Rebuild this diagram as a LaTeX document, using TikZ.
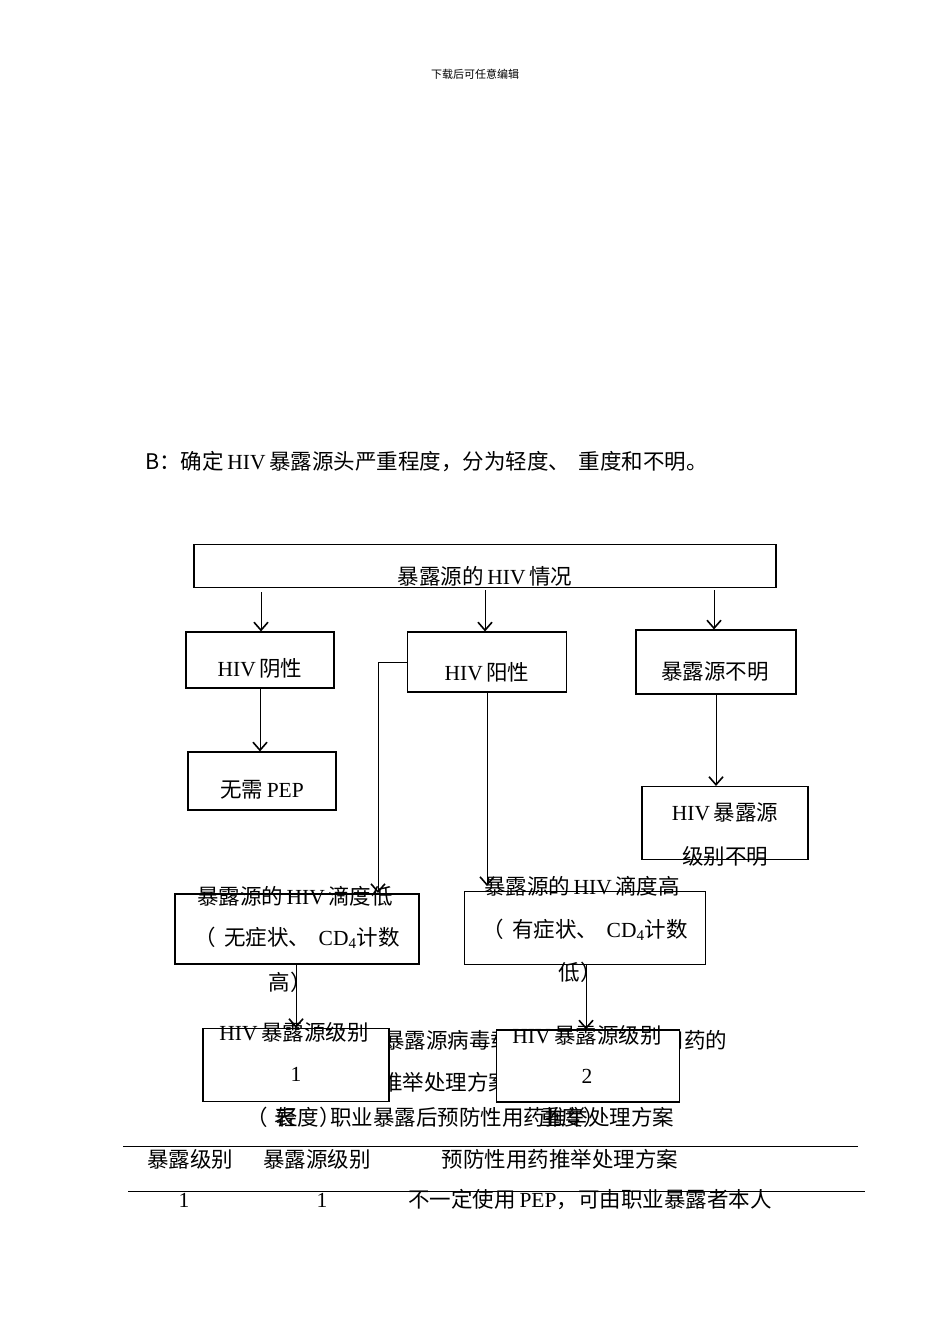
\documentclass[tikz,border=0pt]{standalone}
\usepackage{fontspec}
\setmainfont{Noto Sans CJK SC}
\newfontfamily\lat{Liberation Serif}
\usetikzlibrary{arrows.meta}
\begin{document}
\begin{tikzpicture}[x=1pt,y=-1pt,
  bx/.style={draw,line width=1.1pt,fill=white},
  ar/.style={draw,line width=0.5pt,-{Straight Barb[length=8pt,width=14pt,line width=1.6pt]}},
  tx/.style={font=\fontsize{21.5}{21.5}\selectfont,inner sep=0pt},
  ln/.style={line width=0.6pt}]
\useasboundingbox (0,0) rectangle (950,1344);
\node[font=\fontsize{11}{11}\selectfont] (hd) at (475,74) {下载后可任意编辑};
\node[tx,anchor=west] (b) at (145,462) {B：确定\,{\lat HIV}\,暴露源头严重程度，分为轻度、 \,重度和不明。};
% top
\node[bx,minimum width=582pt,minimum height=43pt] (top) at (485,566) {};
\node[tx] at (485,576) {暴露源的\,{\lat HIV}\,情况};
\coordinate (t1) at (261,592);\coordinate (t2) at (485,590);\coordinate (t3) at (714,590);
\node[bx,minimum width=148pt,minimum height=56pt] (neg) at (260,660) {};
\node[tx] at (260,668) {{\lat HIV}\,阴性};
\node[bx,minimum width=159pt,minimum height=60pt] (pos) at (487,662) {};
\node[tx] at (487,672) {{\lat HIV}\,阳性};
\node[bx,minimum width=160pt,minimum height=64pt] (unk) at (716,662) {};
\node[tx] at (715,672) {暴露源不明};
\draw[ar] (t1) -- (neg.north -| t1);
\draw[ar] (t2) -- (pos.north -| t2);
\draw[ar] (t3) -- (unk.north -| t3);
\node[bx,minimum width=148pt,minimum height=58pt] (nopep) at (262,781) {};
\node[tx] at (262,790) {无需\,{\lat PEP}};
\draw[ar] (neg.south) -- (nopep.north -| neg.south);
\node[bx,minimum width=166pt,minimum height=73pt] (unl) at (725,823) {};
\node[tx] at (725,812) {{\lat HIV}\,暴露源};
\node[tx] at (725,856) {级别不明};
\draw[ar] (unk.south) -- (unl.north -| unk.south);
% low / high
\node[bx,minimum width=244pt,minimum height=70pt] (low) at (297,929) {};
\node[bx,minimum width=241pt,minimum height=73pt] (high) at (585,928) {};
\coordinate (c1) at (378,662);
\draw[ar] (pos.west |- c1) -- (c1) -- (378,893);
\draw[ar] (487,692) -- (487,886);
\node[tx] at (295,896) {暴露源的\,{\lat HIV}\,滴度低};
\node[tx] at (297,938) {（ \,无症状、 \,{\lat CD\textsubscript{4}}计数};
\node[tx] at (290,982) {高）};
\node[tx] at (582,886) {暴露源的\,{\lat HIV}\,滴度高};
\node[tx] at (585,930) {（ \,有症状、 \,{\lat CD\textsubscript{4}}计数};
\node[tx] at (580,972) {低）};
% background text
\node[tx,anchor=west] at (383,1040) {暴露源病毒载量水平和预防性用药的};
\node[tx,anchor=west] at (381,1082) {推举处理方案};
% level boxes
\node[bx,minimum width=186pt,minimum height=73pt] (l1) at (296,1065) {};
\node[bx,minimum width=183pt,minimum height=72pt] (l2) at (588,1066) {};
\draw[ar] (296,964) -- (l1.north);
\draw[ar] (586,965) -- (l2.north -| 586,0);
\node[tx] at (294,1032) {{\lat HIV}\,暴露源级别};
\node[tx] at (296,1074) {\lat 1};
\node[tx] at (587,1035) {{\lat HIV}\,暴露源级别};
\node[tx] at (587,1076) {\lat 2};
\node[tx,anchor=west] at (246,1117) {（ \,轻度）};
\node[tx] at (285,1117) {表};
\node[tx,anchor=west] at (330,1117) {职业暴露后预防性用药推举处理方案};
\node[tx,anchor=west] at (540,1117) {重度）};
% table
\coordinate (a1) at (123,1146);\coordinate (a2) at (858,1146);
\coordinate (b1) at (128,1191);\coordinate (b2) at (865,1191);
\draw[ln] (a1) -- (a2);
\draw[ln] (b1) -- (b2);
\node[tx] at (190,1159) {暴露级别};
\node[tx] at (317,1159) {暴露源级别};
\node[tx] at (560,1159) {预防性用药推举处理方案};
\node[tx] at (184,1200) {\lat 1};
\node[tx] at (322,1200) {\lat 1};
\node[tx] at (590,1200) {不一定使用\,{\lat PEP}，可由职业暴露者本人};
\end{tikzpicture}
\end{document}
